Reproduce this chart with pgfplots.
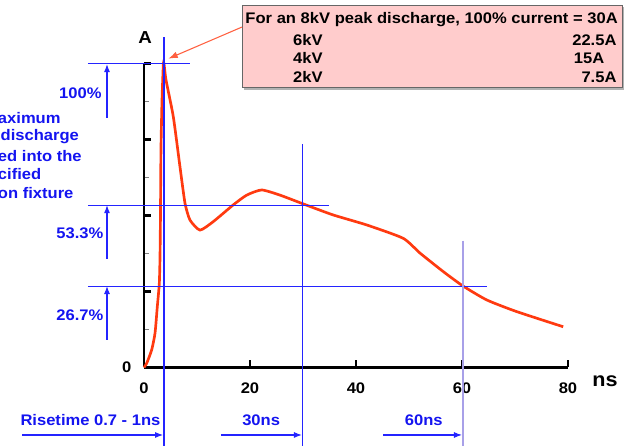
\documentclass[border=0pt]{standalone}
\usepackage{fontspec}
\setmainfont{Liberation Sans}[FakeStretch=1.08]
\usepackage{pgfplots}
\pgfplotsset{compat=1.18}
\usetikzlibrary{arrows.meta}

\definecolor{curve}{HTML}{FF3A10}
\definecolor{refblue}{HTML}{2424FF}
\definecolor{txtblue}{HTML}{1414F0}
\definecolor{lav}{HTML}{A8A0E8}
\definecolor{boxfill}{HTML}{FFCCCC}
\definecolor{arrowred}{HTML}{FF6040}
\newcommand{\lbl}{\bfseries\fontsize{11.5}{13}\selectfont}

\begin{document}
\begin{tikzpicture}
\useasboundingbox (0,0) rectangle (468.75pt,334.5pt);
\clip (0,0) rectangle (468.75pt,334.5pt);
% ESD current waveform, y in % of peak current, x in ns
\begin{axis}[
    at={(108pt,58.875pt)}, anchor=origin,
    scale only axis, width=318pt, height=228pt,
    xmin=0, xmax=80, ymin=0, ymax=100,
    axis x line=bottom, axis y line=left,
    axis line style={-, line width=2.2pt, black},
    xtick={0,20,40,60,80},
    ytick={0,25,50,75,100}, yticklabels={0,,,,},
    minor ytick={12.5,37.5,62.5,87.5},
    tick align=inside,
    major tick length=5.5pt, minor tick length=4pt,
    major tick style={line width=2pt, black},
    minor tick style={line width=0.6pt, gray},
    /pgf/number format/assume math mode=true,
    tick label style={font=\lbl},
    xticklabel style={yshift=-8pt},
    yticklabel style={xshift=-6pt},
    clip=false,
]
\addplot[color=curve, line width=2pt, smooth, tension=0.35] coordinates {
  (0,0) (0.51,1.4) (1.45,5.8) (2.08,11.3) (2.51,20.0) (2.89,27.7) (3.02,36.4)
  (3.1,48.5) (3.2,71.5) (3.4,88) (3.64,99.5) (3.77,100) (4.15,94.6)
  (5.53,82.5) (6.79,66.0) (7.74,54.0) (8.68,48.5) (10.57,45.2) (13.08,48.0)
  (16.85,53.5) (19.38,56.7) (22.2,58.4) (25.66,56.7) (30.06,53.8) (35.66,50.2)
  (42.0,46.9) (48.9,42.5) (52.1,37.6) (56.5,31.5) (60.2,26.8) (64.7,22.2)
  (70.3,18.4) (79.1,13.4)
};
% reference levels
\draw[refblue, line width=0.9pt] (axis cs:-10.57,100) -- (axis cs:8.68,100);
\draw[refblue, line width=0.9pt] (axis cs:-10.57,53.3) -- (axis cs:34.9,53.3);
\draw[refblue, line width=0.9pt] (axis cs:-10.57,26.7) -- (axis cs:64.7,26.7);
\draw[refblue, line width=0.9pt] (axis cs:3.77,108.7) -- (axis cs:3.77,-26);
\draw[refblue, line width=0.9pt] (axis cs:29.94,73.5) -- (axis cs:29.94,-26);
\draw[lav, line width=1.4pt] (axis cs:60.2,41.7) -- (axis cs:60.2,-26);
% level arrows
\draw[refblue, line width=0.8pt, -{Latex[length=6pt,width=4.5pt]}] (axis cs:-6.98,82.1) -- (axis cs:-6.98,99.8);
\draw[refblue, line width=0.8pt, -{Latex[length=6pt,width=4.5pt]}] (axis cs:-6.98,35.7) -- (axis cs:-6.98,53.4);
\draw[refblue, line width=0.8pt, -{Latex[length=6pt,width=4.5pt]}] (axis cs:-6.98,9.05) -- (axis cs:-6.98,26.8);
\draw[refblue, line width=0.8pt, -{Latex[length=6pt,width=4.5pt]}] (axis cs:-23.0,-22.2) -- (axis cs:3.6,-22.2);
\draw[refblue, line width=0.8pt, -{Latex[length=6pt,width=4.5pt]}] (axis cs:14.5,-22.2) -- (axis cs:29.8,-22.2);
\draw[refblue, line width=0.8pt, -{Latex[length=6pt,width=4.5pt]}] (axis cs:45.1,-22.2) -- (axis cs:60.0,-22.2);
% labels
\begin{scope}[every node/.style={font=\lbl, text=txtblue, inner sep=0pt}]
\node at (axis cs:-12.0,90.3) {100\%};
\node at (axis cs:-12.1,44.1) {53.3\%};
\node at (axis cs:-12.1,17.3) {26.7\%};
\node at (axis cs:-10.1,-17.3) {Risetime 0.7 - 1ns};
\node at (axis cs:22.1,-17.3) {30ns};
\node at (axis cs:52.8,-17.3) {60ns};
\node[anchor=west] at (axis cs:-27.6,82.1) {aximum};
\node[anchor=west] at (axis cs:-27.1,75.8) {discharge};
\node[anchor=west] at (axis cs:-27.6,69.6) {ed into the};
\node[anchor=west] at (axis cs:-27.6,63.6) {cified};
\node[anchor=west] at (axis cs:-27.6,57.4) {on fixture};
\end{scope}
\node[font=\bfseries\fontsize{13}{15}\selectfont, inner sep=0pt] at (axis cs:0.2,108.7) {A};
\node[font=\bfseries\fontsize{15}{17}\selectfont, inner sep=0pt] at (axis cs:87.0,-4.4) {ns};
% info box
\fill[gray!60] (axis cs:18.9,118.6) rectangle (axis cs:90.6,91.4);
\draw[gray!80!black, fill=boxfill, line width=0.8pt] (axis cs:18.5,119.2) rectangle (axis cs:90.2,92.0);
\begin{scope}[every node/.style={font=\lbl, inner sep=0pt}]
\node[anchor=west] at (axis cs:19.1,114.3) {For an 8kV peak discharge, 100\% current = 30A};
\node[anchor=west] at (axis cs:28.1,107.7) {6kV};
\node[anchor=west] at (axis cs:28.1,101.8) {4kV};
\node[anchor=west] at (axis cs:28.1,95.6) {2kV};
\node[anchor=east] at (axis cs:89.2,107.7) {22.5A};
\node[anchor=east] at (axis cs:86.9,101.8) {15A};
\node[anchor=east] at (axis cs:89.2,95.6) {7.5A};
\end{scope}
\draw[arrowred, line width=0.8pt, -{Latex[length=7pt,width=5pt]}] (axis cs:18.5,112.0) -- (axis cs:4.6,101.6);
\end{axis}
\end{tikzpicture}
\end{document}
